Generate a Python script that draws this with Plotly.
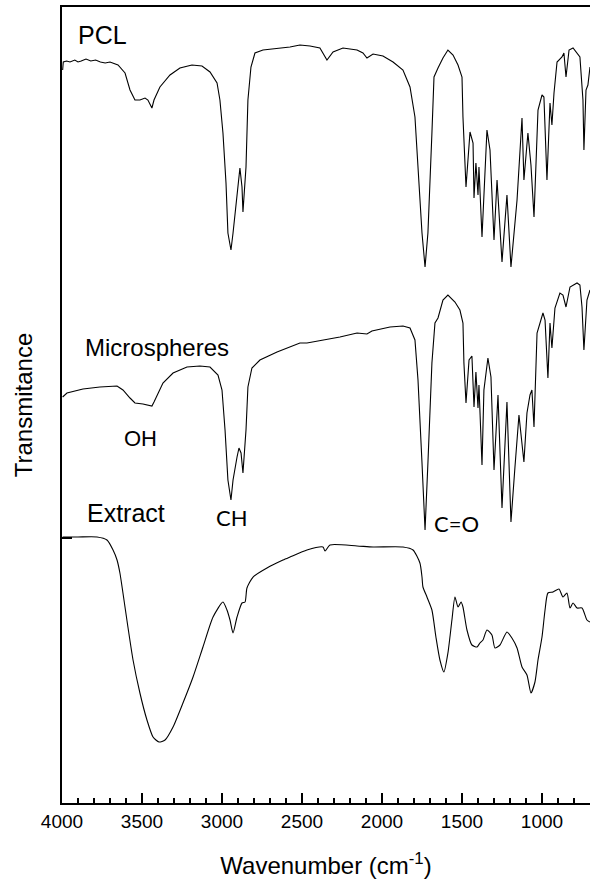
import plotly.graph_objects as go

# ---------------- data (wavenumber in cm-1, transmittance in arbitrary offset units) ----------------
pcl_wn = [3996, 3992, 3971, 3950, 3920, 3900, 3880, 3850, 3820, 3790, 3760, 3730, 3700, 3681,
          3650, 3606, 3575, 3544, 3513, 3481, 3463, 3438, 3425, 3388, 3325, 3263, 3188, 3125,
          3075, 3031, 3013, 2994, 2975, 2963, 2944, 2931, 2906, 2900, 2888, 2875, 2869, 2850,
          2838, 2819, 2794, 2744, 2619, 2575, 2513, 2450, 2388, 2344, 2306, 2244, 2156, 2119,
          2094, 2056, 1994, 1931, 1869, 1825, 1794, 1775, 1750, 1731, 1713, 1688, 1675, 1650,
          1619, 1588, 1556, 1525, 1500, 1494, 1475, 1450, 1431, 1425, 1413, 1400, 1394, 1375,
          1344, 1325, 1300, 1281, 1250, 1219, 1194, 1156, 1125, 1113, 1088, 1069, 1050, 1025,
          1000, 988, 969, 950, 938, 925, 906, 875, 863, 850, 831, 806, 781, 763, 744, 738,
          725, 713, 700]
pcl_t = [733, 741, 742, 741, 743, 741, 742, 744, 742, 743, 741, 740, 741, 740,
         738, 730, 713, 703, 703, 705, 703, 695, 703, 716, 728, 735, 738, 737,
         731, 720, 703, 670, 620, 570, 553, 570, 610, 613, 635, 616, 591, 636,
         703, 736, 750, 753, 755, 756, 758, 757, 755, 743, 751, 755, 753, 750,
         745, 749, 747, 741, 733, 716, 686, 636, 570, 536, 570, 670, 726, 735,
         745, 753, 748, 738, 726, 686, 616, 671, 660, 605, 640, 608, 636, 566,
         673, 653, 563, 623, 541, 608, 536, 603, 685, 623, 670, 638, 586, 693,
         708, 706, 623, 700, 678, 710, 741, 746, 750, 726, 753, 755, 750, 746, 703, 653,
         713, 718, 736]

micro_wn = [3996, 3969, 3869, 3763, 3656, 3619, 3575, 3544, 3494, 3438, 3425, 3369, 3306, 3219,
            3138, 3075, 3025, 3000, 2981, 2963, 2944, 2931, 2906, 2894, 2881, 2869, 2850, 2838,
            2813, 2763, 2656, 2575, 2513, 2469, 2369, 2263, 2156, 2094, 2063, 1950, 1869, 1825,
            1794, 1775, 1750, 1731, 1713, 1688, 1669, 1650, 1619, 1588, 1544, 1513, 1494, 1488,
            1475, 1456, 1438, 1425, 1413, 1400, 1394, 1375, 1363, 1338, 1319, 1300, 1275, 1250,
            1219, 1194, 1169, 1144, 1113, 1094, 1075, 1063, 1050, 1031, 994, 981, 963, 950,
            938, 919, 888, 869, 850, 825, 781, 763, 750, 738, 719, 700]
micro_t = [406, 410, 414, 416, 417, 413, 405, 400, 399, 397, 401, 420, 430, 436,
           437, 436, 428, 413, 373, 323, 303, 323, 346, 355, 350, 330, 373, 416,
           435, 443, 451, 456, 460, 460, 463, 466, 470, 469, 472, 476, 477, 475,
           463, 423, 340, 273, 340, 440, 480, 485, 503, 508, 501, 493, 480, 440,
           400, 443, 447, 396, 431, 395, 418, 338, 413, 445, 426, 333, 408, 295,
           401, 281, 336, 388, 341, 390, 408, 413, 376, 470, 490, 483, 425, 480,
           455, 495, 510, 508, 496, 516, 520, 518, 496, 453, 503, 513]

extract_wn = [3996, 3900, 3781, 3719, 3681, 3656, 3638, 3619, 3588, 3556, 3513, 3469, 3431, 3394,
              3356, 3306, 3244, 3181, 3119, 3056, 2994, 2969, 2950, 2931, 2906, 2875, 2856, 2844,
              2806, 2719, 2619, 2575, 2469, 2369, 2356, 2325, 2156, 2056, 1869, 1806, 1763, 1750,
              1744, 1719, 1688, 1663, 1638, 1613, 1588, 1563, 1544, 1525, 1506, 1494, 1469, 1438,
              1406, 1388, 1369, 1344, 1313, 1294, 1263, 1219, 1188, 1156, 1125, 1094, 1069, 1044,
              1025, 1000, 981, 963, 931, 894, 869, 844, 825, 806, 781, 750, 719, 700]
extract_t = [266, 266, 266, 263, 253, 243, 230, 210, 176, 143, 110, 83, 66, 61,
             63, 76, 100, 126, 156, 186, 201, 193, 183, 170, 186, 200, 201, 215,
             226, 235, 243, 246, 253, 256, 252, 258, 257, 256, 256, 253, 240, 226,
             216, 206, 193, 166, 143, 131, 150, 183, 206, 196, 201, 196, 173, 158,
             156, 160, 163, 173, 168, 155, 158, 171, 165, 155, 136, 128, 110, 121,
             143, 166, 193, 210, 211, 214, 206, 210, 195, 200, 195, 195, 183, 181]

x_ticks = [4000, 3500, 3000, 2500, 2000, 1500, 1000]
x_tick_text = ["4000", "3500", "3000", "2500", "2000", "1500", "1000"]

series = [("PCL", pcl_wn, pcl_t, "linear"),
          ("Microspheres", micro_wn, micro_t, "linear"),
          ("Extract", extract_wn, extract_t, "spline")]

fig = go.Figure()
for name, wn, t, shape in series:
    line = dict(color="black", width=1.1, shape=shape)
    if shape == "spline":
        line["smoothing"] = 0.6
    fig.add_trace(go.Scatter(x=wn, y=t, mode="lines", name=name,
                             line=line, showlegend=False,
                             hoverinfo="x+y+name"))

arial = "Liberation Sans, Arial, sans-serif"
calib = "Lato, Carlito, Calibri, sans-serif"
labels = [
    ("PCL", 3910, 768, 25, arial),
    ("Microspheres", 3866, 456, 24, arial),
    ("OH", 3625, 365, 22, arial),
    ("Extract", 3856, 290, 25, arial),
    ("CH", 3050, 286, 22, calib),
    ("C=O", 1690, 280, 22, calib),
]
for txt, x, y, sz, fam in labels:
    fig.add_annotation(x=x, y=y, xref="x", yref="y", text=txt, showarrow=False,
                       xanchor="left", yanchor="middle",
                       font=dict(size=sz, family=fam, color="black"))

fig.update_layout(
    width=590, height=887,
    margin=dict(l=62, r=0, t=7, b=84),
    paper_bgcolor="white", plot_bgcolor="white",
    font=dict(family=arial, color="black"),
    xaxis=dict(
        range=[4000, 700], autorange=False,
        tickvals=x_ticks, ticktext=x_tick_text,
        ticks="inside", ticklen=10, tickwidth=2, tickcolor="black",
        minor=dict(ticks="inside", ticklen=5, tickwidth=1.5, tickcolor="black", dtick=100, tick0=0),
        showline=True, linecolor="black", linewidth=2, mirror=True,
        showgrid=False, zeroline=False,
        tickfont=dict(size=19, family=arial, color="black"),
        title=dict(text="Wavenumber (cm<sup>-1</sup>)", font=dict(size=24, family=arial, color="black"),
                   standoff=26),
        automargin=False,
    ),
    yaxis=dict(
        range=[0, 796], autorange=False,
        tickvals=[265], ticks="inside", ticklen=10, tickwidth=2, tickcolor="black",
        showticklabels=False,
        showline=True, linecolor="black", linewidth=2,
        showgrid=False, zeroline=False,
        title=dict(text="Transmitance", font=dict(size=24, family=arial, color="black"), standoff=21),
        automargin=False,
    ),
)

fig.write_html("out.html")
